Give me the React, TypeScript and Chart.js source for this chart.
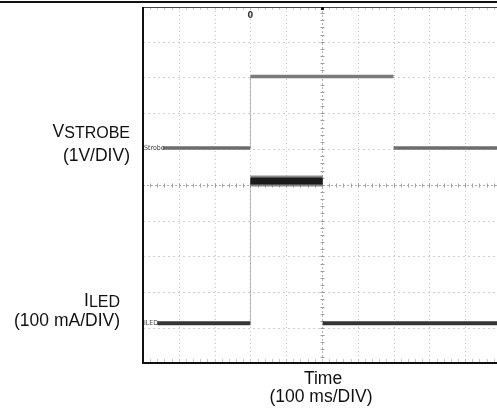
import React, { useEffect, useRef } from "react";
import { Chart, registerables } from "chart.js";

Chart.register(...registerables);

// Time axis: 100 ms per division
const timePerDiv = 100; // ms
const timeMax = 989; // ms visible at right edge
const yMinDiv = -4.95;
const yMaxDiv = 4.97;

// Strobe voltage trace (1 V/DIV)
const strobeTime = [56, 300, 300, 700, 700, 989]; // ms
const strobeVolts = [0, 0, 2, 2, 0, 0]; // V
const strobeVoltsPerDiv = 1;
const strobeOffsetDiv = 1.03;

// LED current trace (100 mA/DIV)
const ledTime = [40, 300, 300, 502, 502, 989]; // ms
const ledCurrent = [0, 0, 398, 398, 0, 0]; // mA
const ledMaPerDiv = 100;
const ledOffsetDiv = -3.87;

const toDiv = (v: number, perDiv: number, off: number) => off + v / perDiv;

function buildSegments(
  t: number[],
  v: number[],
  perDiv: number,
  off: number,
  kind: "strobe" | "led"
) {
  const out: any[] = [];
  for (let i = 0; i < t.length - 1; i++) {
    const p0 = { x: t[i], y: toDiv(v[i], perDiv, off) };
    const p1 = { x: t[i + 1], y: toDiv(v[i + 1], perDiv, off) };
    const isEdge = t[i] === t[i + 1];
    const base = {
      data: [p0, p1],
      pointRadius: 0,
      tension: 0,
      fill: false,
      borderCapStyle: "butt",
    };
    if (isEdge) {
      // fast edges: rising edges leave a faint trace, falling edges are not visible
      const rising = v[i + 1] > v[i];
      out.push({
        ...base,
        borderColor: rising ? "rgba(140,140,140,0.6)" : "rgba(255,255,255,0)",
        borderWidth: 1,
        order: 5,
      });
    } else if (kind === "strobe") {
      out.push({ ...base, borderColor: v[i] > 0 ? "#7a7a7a" : "#6c6c6c", borderWidth: 3.5, order: 2 });
    } else if (v[i] > 0) {
      out.push({ ...base, borderColor: "rgba(110,110,110,0.8)", borderWidth: 11, order: 3 });
      out.push({ ...base, borderColor: "#1c1c1c", borderWidth: 7, order: 1 });
    } else {
      out.push({ ...base, borderColor: "#353535", borderWidth: 4, order: 2 });
    }
  }
  return out;
}

const graticule = {
  id: "graticule",
  beforeDatasetsDraw(chart: any) {
    const ctx = chart.ctx;
    const xs = chart.scales.x;
    const ys = chart.scales.y;
    const { left, right, top, bottom } = chart.chartArea;
    ctx.save();
    ctx.lineWidth = 1;
    // major vertical lines
    ctx.strokeStyle = "#c8c8c8";
    ctx.setLineDash([1, 3]);
    for (let k = 1; k * timePerDiv < timeMax; k++) {
      if (k === 5) continue;
      const x = Math.round(xs.getPixelForValue(k * timePerDiv)) + 0.5;
      ctx.beginPath();
      ctx.moveTo(x, top);
      ctx.lineTo(x, bottom);
      ctx.stroke();
    }
    // major horizontal lines
    ctx.setLineDash([2, 3]);
    ctx.strokeStyle = "#d0d0d0";
    for (let k = -4; k <= 4; k++) {
      if (k === 0) continue;
      const y = Math.round(ys.getPixelForValue(k)) + 0.5;
      ctx.beginPath();
      ctx.moveTo(left, y);
      ctx.lineTo(right, y);
      ctx.stroke();
    }
    // center lines
    ctx.strokeStyle = "#b0b0b0";
    ctx.setLineDash([2, 2]);
    const cx = Math.round(xs.getPixelForValue(5 * timePerDiv)) + 0.5;
    const cy = Math.round(ys.getPixelForValue(0)) + 0.5;
    ctx.beginPath();
    ctx.moveTo(cx, top);
    ctx.lineTo(cx, bottom);
    ctx.moveTo(left, cy);
    ctx.lineTo(right, cy);
    ctx.stroke();
    ctx.setLineDash([]);
    // minor ticks on center lines and frame edges
    ctx.strokeStyle = "#a0a0a0";
    for (let t = 0; t <= timeMax; t += timePerDiv / 5) {
      const x = Math.round(xs.getPixelForValue(t)) + 0.5;
      ctx.beginPath();
      ctx.moveTo(x, cy - 2);
      ctx.lineTo(x, cy + 2);
      ctx.stroke();
    }
    ctx.strokeStyle = "#cacaca";
    for (let t = 0; t <= timeMax; t += timePerDiv / 5) {
      const x = Math.round(xs.getPixelForValue(t)) + 0.5;
      ctx.beginPath();
      ctx.moveTo(x, top);
      ctx.lineTo(x, top + 3);
      ctx.moveTo(x, bottom);
      ctx.lineTo(x, bottom - 3);
      ctx.stroke();
    }
    ctx.strokeStyle = "#a0a0a0";
    for (let d = -4.8; d <= 4.9; d += 0.2) {
      const y = Math.round(ys.getPixelForValue(d)) + 0.5;
      ctx.beginPath();
      ctx.moveTo(cx - 2, y);
      ctx.lineTo(cx + 2, y);
      ctx.stroke();
    }
    ctx.restore();
  },
  afterDatasetsDraw(chart: any) {
    const ctx = chart.ctx;
    const xs = chart.scales.x;
    const ys = chart.scales.y;
    const { left, right, top, bottom } = chart.chartArea;
    ctx.save();
    // frame
    ctx.fillStyle = "#111";
    ctx.fillRect(0, 1, chart.width, 2);
    ctx.fillStyle = "#444";
    ctx.fillRect(left - 1, top, right - left + 1, 1);
    ctx.fillStyle = "#111";
    ctx.fillRect(left - 1, top, 2, bottom - top + 2);
    ctx.fillRect(left - 1, bottom, right - left + 1, 2);
    // channel markers
    ctx.fillStyle = "#444";
    ctx.font = "7px 'Liberation Sans Narrow', 'DejaVu Sans Condensed', sans-serif";
    ctx.textBaseline = "middle";
    ctx.textAlign = "left";
    ctx.fillText("Strobe", left + 1, ys.getPixelForValue(strobeOffsetDiv));
    ctx.fillText("ILED", left + 1, ys.getPixelForValue(ledOffsetDiv));
    // trigger markers
    ctx.fillStyle = "#333";
    ctx.font = "bold 9px 'DejaVu Sans Condensed', sans-serif";
    ctx.textAlign = "center";
    ctx.fillText("0", xs.getPixelForValue(300), top + 9);
    const cx = xs.getPixelForValue(5 * timePerDiv);
    ctx.fillStyle = "#111";
    ctx.fillRect(cx - 1, top, 3, 3);
    ctx.restore();
  },
};

const font = "'Liberation Sans', Arial, Helvetica, sans-serif";

export default function App() {
  const ref = useRef<HTMLCanvasElement | null>(null);
  useEffect(() => {
    if (!ref.current) return;
    const datasets = [
      ...buildSegments(strobeTime, strobeVolts, strobeVoltsPerDiv, strobeOffsetDiv, "strobe"),
      ...buildSegments(ledTime, ledCurrent, ledMaPerDiv, ledOffsetDiv, "led"),
    ];
    const chart = new Chart(ref.current, {
      type: "line",
      data: { datasets },
      options: {
        animation: false,
        responsive: false,
        maintainAspectRatio: false,
        layout: { padding: { left: 143, top: 7, right: 0, bottom: 52 } },
        plugins: { legend: { display: false }, tooltip: { enabled: false } },
        scales: {
          x: { type: "linear", min: 0, max: timeMax, display: false },
          y: { type: "linear", min: yMinDiv, max: yMaxDiv, display: false },
        },
      },
      plugins: [graticule],
    } as any);
    return () => chart.destroy();
  }, []);

  const lbl: React.CSSProperties = {
    position: "absolute",
    fontFamily: font,
    fontSize: "17.5px",
    lineHeight: "17.5px",
    color: "#111",
    whiteSpace: "nowrap",
  };
  const sub: React.CSSProperties = { fontSize: "16px", lineHeight: "16px", position: "relative", top: "1px" };

  return (
    <div style={{ position: "absolute", left: 0, top: 0, width: 497, height: 414, background: "#fff", overflow: "hidden" }}>
      <canvas ref={ref} width={497} height={414} style={{ position: "absolute", left: 0, top: 0 }} />
      <div style={{ ...lbl, right: 367, top: 123, textAlign: "right" }}>
        V<span style={sub}>STROBE</span>
      </div>
      <div style={{ ...lbl, right: 367, top: 146.5, textAlign: "right" }}>(1V/DIV)</div>
      <div style={{ ...lbl, right: 377, top: 291.7, textAlign: "right" }}>
        I<span style={sub}>LED</span>
      </div>
      <div style={{ ...lbl, right: 377, top: 311.7, textAlign: "right" }}>(100 mA/DIV)</div>
      <div style={{ ...lbl, left: 223, width: 200, top: 370, textAlign: "center" }}>Time</div>
      <div style={{ ...lbl, left: 221, width: 200, top: 388.2, textAlign: "center" }}>(100 ms/DIV)</div>
    </div>
  );
}
